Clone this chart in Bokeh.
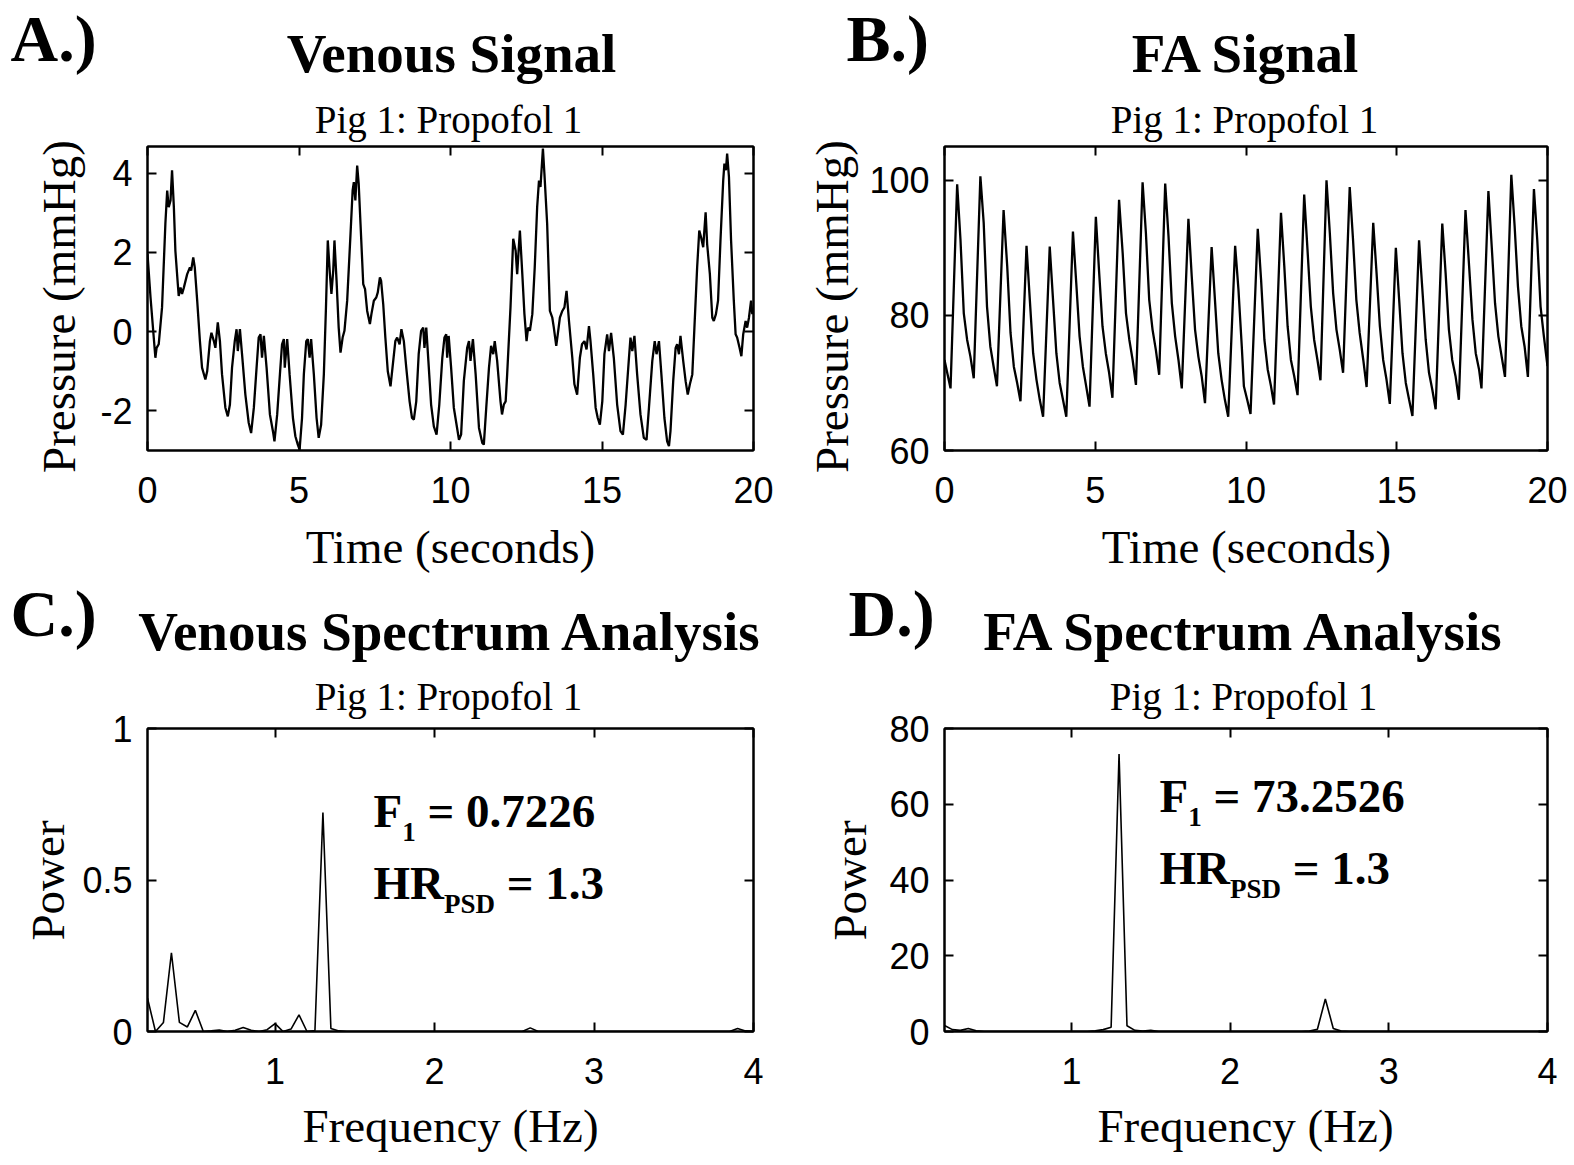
import math

from bokeh.plotting import figure
from bokeh.layouts import row, column
from bokeh.models import Range1d, LinearAxis, FixedTicker, Label
from bokeh.embed import file_html
from bokeh.resources import INLINE

# ---------------------------------------------------------------- data
# Venous pressure trace, 20 s window (seconds, mmHg)
venous_t = [
    0.00, 0.10, 0.26, 0.30, 0.37, 0.48, 0.59, 0.65, 0.70, 0.76, 0.81, 0.87, 0.92, 1.00,
    1.03, 1.09, 1.14, 1.20, 1.31, 1.40, 1.44, 1.51, 1.56, 1.64, 1.73, 1.80, 1.91, 1.97,
    2.06, 2.11, 2.19, 2.24, 2.32, 2.39, 2.46, 2.57, 2.65, 2.72, 2.79, 2.88, 2.94, 2.98,
    3.05, 3.12, 3.23, 3.34, 3.42, 3.51, 3.60, 3.67, 3.73, 3.78, 3.84, 3.93, 4.04, 4.15,
    4.19, 4.28, 4.37, 4.44, 4.50, 4.53, 4.61, 4.69, 4.80, 4.88, 4.96, 5.02, 5.10, 5.16,
    5.24, 5.29, 5.35, 5.40, 5.49, 5.58, 5.65, 5.73, 5.82, 5.89, 5.95, 6.02, 6.07, 6.13,
    6.17, 6.24, 6.31, 6.37, 6.44, 6.50, 6.59, 6.70, 6.77, 6.81, 6.86, 6.92, 6.97, 7.03,
    7.12, 7.18, 7.25, 7.34, 7.39, 7.47, 7.55, 7.60, 7.67, 7.71, 7.78, 7.85, 7.93, 8.02,
    8.11, 8.18, 8.24, 8.32, 8.38, 8.46, 8.54, 8.65, 8.73, 8.79, 8.87, 8.95, 9.03, 9.10,
    9.14, 9.20, 9.27, 9.36, 9.45, 9.54, 9.63, 9.73, 9.80, 9.86, 9.89, 9.94, 10.02, 10.11,
    10.28, 10.35, 10.44, 10.55, 10.61, 10.66, 10.74, 10.83, 10.94, 11.05, 11.10, 11.18,
    11.27, 11.34, 11.41, 11.46, 11.54, 11.65, 11.70, 11.76, 11.82, 11.87, 11.98, 12.07,
    12.15, 12.20, 12.29, 12.37, 12.44, 12.51, 12.56, 12.62, 12.70, 12.78, 12.86, 12.92,
    12.97, 13.05, 13.10, 13.19, 13.28, 13.36, 13.41, 13.49, 13.54, 13.61, 13.69, 13.76,
    13.83, 13.91, 14.02, 14.09, 14.18, 14.27, 14.34, 14.42, 14.49, 14.57, 14.62, 14.71,
    14.79, 14.86, 14.93, 15.01, 15.08, 15.17, 15.23, 15.30, 15.39, 15.50, 15.61, 15.69,
    15.78, 15.89, 15.94, 16.00, 16.07, 16.16, 16.27, 16.38, 16.47, 16.55, 16.66, 16.74,
    16.80, 16.88, 16.96, 17.06, 17.15, 17.21, 17.26, 17.35, 17.43, 17.48, 17.54, 17.59,
    17.68, 17.76, 17.83, 17.90, 17.98, 18.05, 18.14, 18.21, 18.27, 18.34, 18.42, 18.47,
    18.56, 18.64, 18.69, 18.76, 18.83, 18.91, 19.00, 19.04, 19.09, 19.13, 19.19, 19.26,
    19.35, 19.41, 19.46, 19.54, 19.60, 19.66, 19.74, 19.79, 19.85, 19.92, 19.96, 20.00,
]
venous_p = [
    1.96, 0.86, -0.66, -0.41, -0.32, 0.61, 2.72, 3.56, 3.14, 3.31, 4.07, 3.14, 2.04, 1.20,
    0.90, 1.11, 0.95, 1.11, 1.45, 1.62, 1.54, 1.87, 1.62, 0.78, -0.24, -0.91, -1.21, -1.00,
    -0.24, -0.03, -0.24, -0.41, 0.23, -0.24, -1.08, -1.92, -2.14, -1.84, -0.91, -0.24, 0.06, -0.49,
    0.06, -0.57, -1.59, -2.30, -2.56, -1.92, -0.91, -0.15, -0.07, -0.66, -0.11, -0.91, -2.09, -2.56,
    -2.77, -2.09, -1.08, -0.32, -0.19, -0.91, -0.19, -1.08, -2.18, -2.64, -2.85, -2.98, -2.18, -1.08,
    -0.24, -0.19, -0.66, -0.19, -1.08, -2.18, -2.68, -2.35, -1.08, 0.61, 2.30, 1.45, 0.95, 1.54,
    2.30, 1.28, 0.10, -0.53, -0.15, 0.02, 0.78, 2.46, 3.56, 3.77, 3.31, 4.19, 3.73, 2.72,
    1.20, 1.07, 0.52, 0.19, 0.44, 0.78, 0.86, 0.99, 1.37, 1.28, 0.69, -0.15, -1.00, -1.38,
    -0.74, -0.24, -0.15, -0.32, 0.06, -0.24, -0.91, -1.76, -2.18, -2.22, -1.76, -0.57, 0.02, 0.10,
    -0.41, 0.10, -0.74, -1.84, -2.39, -2.60, -1.84, -0.66, -0.15, -0.07, -0.66, -0.11, -0.91, -1.92,
    -2.73, -2.60, -1.25, -0.41, -0.24, -0.74, -0.19, -1.08, -2.43, -2.81, -2.85, -1.92,
    -0.91, -0.36, -0.57, -0.24, -0.74, -1.76, -2.09, -1.84, -1.76, -1.08, 0.61, 2.34,
    2.04, 1.45, 2.55, 1.45, 0.44, -0.24, 0.10, 0.02, 0.44, 1.62, 3.14, 3.81,
    3.65, 4.62, 3.98, 2.72, 0.52, 0.35, 0.10, -0.36, -0.07, 0.35, 0.52, 0.61,
    1.03, 0.27, -0.66, -1.33, -1.59, -0.66, -0.32, -0.24, -0.45, 0.14, -0.24, -1.08,
    -1.92, -2.18, -2.35, -1.76, -0.57, -0.07, -0.49, -0.03, -0.66, -1.84, -2.51, -2.60,
    -1.84, -0.66, -0.15, -0.49, -0.11, -1.08, -2.09, -2.68, -2.73, -1.92, -0.74, -0.24,
    -0.57, -0.24, -1.08, -2.18, -2.77, -2.89, -2.51, -1.25, -0.41, -0.32, -0.57, -0.11,
    -0.74, -1.25, -1.59, -1.33, -1.08, 0.10, 1.62, 2.55, 2.38, 2.13, 3.01, 2.21,
    1.45, 0.35, 0.27, 0.44, 0.78, 2.30, 3.81, 4.24, 4.07, 4.49, 3.90, 2.30,
    0.78, -0.07, -0.15, -0.41, -0.62, -0.07, 0.27, 0.10, 0.35, 0.78, 0.44, 0.61,
]

# Femoral arterial pressure trace, 20 s window (seconds, mmHg)
fa_t = [
    0.00, 0.20, 0.42, 0.53, 0.64, 0.75, 0.86, 0.97, 1.19, 1.30, 1.41, 1.52, 1.63, 1.74,
    1.96, 2.08, 2.19, 2.30, 2.41, 2.52, 2.72, 2.83, 2.94, 3.05, 3.16, 3.27, 3.49, 3.60,
    3.71, 3.82, 3.93, 4.04, 4.26, 4.37, 4.48, 4.59, 4.70, 4.81, 5.02, 5.13, 5.24, 5.35,
    5.46, 5.57, 5.79, 5.91, 6.02, 6.13, 6.24, 6.35, 6.57, 6.68, 6.79, 6.90, 7.01, 7.12,
    7.32, 7.43, 7.54, 7.65, 7.76, 7.87, 8.09, 8.20, 8.31, 8.42, 8.53, 8.64, 8.86, 8.97,
    9.08, 9.19, 9.30, 9.41, 9.64, 9.75, 9.86, 9.93, 10.04, 10.15, 10.39, 10.50, 10.61, 10.72,
    10.83, 10.93, 11.16, 11.27, 11.38, 11.49, 11.60, 11.71, 11.93, 12.04, 12.15, 12.26, 12.37, 12.47,
    12.67, 12.78, 12.89, 13.00, 13.11, 13.22, 13.44, 13.55, 13.66, 13.77, 13.89, 14.00, 14.22, 14.33,
    14.44, 14.55, 14.66, 14.77, 14.97, 15.08, 15.19, 15.30, 15.41, 15.52, 15.74, 15.85, 15.96, 16.07,
    16.18, 16.29, 16.51, 16.62, 16.73, 16.84, 16.95, 17.06, 17.28, 17.40, 17.51, 17.62, 17.73, 17.81,
    18.04, 18.15, 18.26, 18.37, 18.48, 18.59, 18.80, 18.91, 19.02, 19.13, 19.24, 19.35, 19.55, 19.66,
    19.77, 19.88, 20.00,
]
fa_p = [
    73.4, 69.2, 99.4, 91.2, 80.3, 76.4, 73.9, 70.7, 100.6, 93.7, 81.3, 75.4, 72.4, 69.5,
    95.6, 87.3, 77.4, 72.4, 70.0, 67.3, 90.3, 82.3, 74.4, 70.5, 67.5, 65.0, 90.2, 82.3,
    74.4, 70.0, 67.5, 65.0, 92.4, 84.8, 76.9, 72.4, 69.5, 66.5, 94.6, 86.3, 78.4, 74.4,
    71.5, 67.8, 97.1, 89.2, 80.3, 76.4, 73.4, 69.7, 99.7, 92.2, 82.3, 77.9, 74.9, 71.2,
    99.5, 91.7, 81.8, 76.9, 73.4, 69.2, 94.3, 85.8, 77.9, 73.9, 71.0, 67.0, 90.1, 82.3,
    74.4, 70.5, 67.5, 65.0, 90.3, 83.8, 75.4, 69.5, 67.5, 65.4, 92.8, 85.3, 76.4, 72.0,
    69.5, 66.8, 95.2, 87.3, 78.4, 73.4, 71.0, 68.2, 97.9, 89.7, 81.3, 76.4, 73.4, 70.4,
    100.0, 92.2, 83.3, 77.9, 74.9, 71.5, 99.0, 91.2, 82.3, 77.4, 73.4, 69.4, 93.7, 86.3,
    78.4, 73.4, 70.5, 66.9, 90.0, 82.3, 74.4, 70.0, 67.5, 65.1, 91.1, 83.8, 76.4, 71.5,
    69.0, 66.1, 93.6, 86.3, 77.9, 73.4, 71.0, 67.5, 95.6, 87.3, 79.4, 74.4, 72.0, 69.2,
    98.4, 90.2, 81.8, 76.9, 73.9, 70.9, 100.8, 93.2, 84.3, 78.4, 75.4, 70.9, 98.7, 91.2,
    81.3, 76.9, 72.5,
]

# Power spectra (Hz, power); flat stretches are given by their end points
venous_freq = [
    0.20, 0.25, 0.30, 0.35, 0.40, 0.45, 0.50, 0.55, 0.60, 0.65, 0.70, 0.75, 0.80, 0.85,
    0.90, 0.95, 1.00, 1.05, 1.10, 1.15, 1.20, 1.25, 1.30, 1.35, 1.40, 1.45, 2.55, 2.60,
    2.65, 3.85, 3.90, 3.95, 4.00,
]
venous_power = [
    0.11, 0.0, 0.03, 0.26, 0.03, 0.015, 0.07, 0.0, 0.002, 0.005, 0.0, 0.004, 0.013, 0.004,
    0.0, 0.006, 0.026, 0.0, 0.008, 0.055, 0.0, 0.003, 0.7226, 0.01, 0.002, 0.0, 0.0, 0.012,
    0.0, 0.0, 0.01, 0.002, 0.0,
]
fa_freq = [
    0.20, 0.25, 0.30, 0.35, 0.40, 0.45, 1.10, 1.15, 1.20, 1.25, 1.30, 1.35, 1.40, 1.45,
    1.50, 1.55, 2.45, 2.50, 2.55, 2.60, 2.65, 2.70, 2.75, 4.00,
]
fa_power = [
    1.6, 0.5, 0.3, 0.8, 0.2, 0.0, 0.0, 0.2, 0.5, 1.1, 73.2526, 1.5, 0.3, 0.1,
    0.3, 0.0, 0.0, 0.1, 0.6, 8.6, 0.8, 0.1, 0.0, 0.0,
]

time_ticks = [0, 5, 10, 15, 20]
time_tick_labels = ["0", "5", "10", "15", "20"]
venous_ticks = [-2, 0, 2, 4]
venous_tick_labels = ["-2", "0", "2", "4"]
fa_ticks = [60, 80, 100]
fa_tick_labels = ["60", "80", "100"]
freq_ticks = [1, 2, 3, 4]
freq_tick_labels = ["1", "2", "3", "4"]
venous_power_ticks = [0, 0.5, 1]
venous_power_tick_labels = ["0", "0.5", "1"]
fa_power_ticks = [0, 20, 40, 60, 80]
fa_power_tick_labels = ["0", "20", "40", "60", "80"]

# ---------------------------------------------------------------- style
SERIF = "Liberation Serif"
SANS = "Liberation Sans"
TICK_PX = 36
AXIS_LABEL_PX = 47
TITLE_PX = 55
SUBTITLE_PX = 39
LETTER_PX = 66
NOTE_PX = 47
NOTE_SUB_PX = 27
BASELINE_SHIFT = 0.36  # em; moves the drawn baseline onto the requested one

# advance widths (em) of Liberation Serif Bold, used to chain subscript pieces
BOLD_SERIF_EM = {
    "F": 0.611, "H": 0.778, "R": 0.722, "P": 0.611, "S": 0.556, "D": 0.722,
    "1": 0.5, " ": 0.25,
}


def em_width(s):
    return sum(BOLD_SERIF_EM[c] for c in s)


def text(p, x, y, s, size, bold=False, align="left", vertical=False, place="center"):
    """Serif text with its alphabetic baseline at canvas (x, y)."""
    shift = BASELINE_SHIFT * size
    if vertical:
        x, angle = x - shift, math.pi / 2
    else:
        y, angle = y - shift, 0.0
    p.add_layout(Label(x=x, y=y, x_units="canvas", y_units="canvas", text=s,
                       text_font=SERIF, text_font_size=f"{size}px",
                       text_font_style="bold" if bold else "normal",
                       text_align=align, text_baseline="alphabetic",
                       angle=angle, text_color="black"), place)


def note(p, x, y, main, sub, rest):
    text(p, x, y, main, NOTE_PX, bold=True)
    xs = x + em_width(main) * NOTE_PX
    text(p, xs, y + 14, sub, NOTE_SUB_PX, bold=True)
    xr = xs + em_width(sub) * NOTE_SUB_PX + em_width(" ") * NOTE_PX
    text(p, xr, y, rest, NOTE_PX, bold=True)


def make_panel(w, h, left, right, top, bottom, xr, yr, xt, xl, yt, yl):
    p = figure(width=w, height=h, x_range=Range1d(*xr), y_range=Range1d(*yr),
               output_backend="svg", toolbar_location=None,
               x_axis_location=None, y_axis_location=None,
               min_border_left=left, min_border_right=right,
               min_border_top=top, min_border_bottom=bottom)
    p.grid.visible = False
    p.outline_line_color = "black"
    p.outline_line_width = 2
    p.background_fill_color = "white"
    p.border_fill_color = "white"
    for loc, ticks, labels in [("below", xt, xl), ("above", xt, None),
                               ("left", yt, yl), ("right", yt, None)]:
        ax = LinearAxis(ticker=FixedTicker(ticks=ticks))
        ax.axis_line_color = "black"
        ax.axis_line_width = 2
        ax.major_tick_line_color = "black"
        ax.major_tick_line_width = 2
        ax.major_tick_in = 9
        ax.major_tick_out = 0
        ax.minor_tick_line_color = None
        if labels is not None:
            ax.major_label_overrides = dict(zip(ticks, labels))
            ax.major_label_text_font = SANS
            ax.major_label_text_font_size = f"{TICK_PX}px"
            ax.major_label_text_color = "black"
            ax.major_label_standoff = 15 if loc == "left" else 26
        else:
            ax.major_label_overrides = {t: "" for t in ticks}
            ax.major_label_text_font_size = "0px"
            ax.major_label_text_color = None
            ax.major_label_standoff = 0
        p.add_layout(ax, loc)
    return p


def make_header(w, h):
    p = figure(width=w, height=h, x_range=Range1d(0, 1), y_range=Range1d(0, 1),
               output_backend="svg", toolbar_location=None,
               x_axis_location=None, y_axis_location=None,
               min_border_left=0, min_border_right=0, min_border_top=0, min_border_bottom=0)
    p.grid.visible = False
    p.outline_line_color = None
    p.background_fill_color = "white"
    p.border_fill_color = "white"
    return p


# ---------------------------------------------------------------- layout
# page rows: heading strip 0-88, panels A/B 88-576, heading strip 576-668, panels C/D 668-1165
W = 787
HEAD_TOP, ROW_TOP = 88, 488
HEAD_BOT, ROW_BOT = 92, 497

head_top = make_header(2 * W, HEAD_TOP)
text(head_top, 10, 62, "A.)", LETTER_PX, bold=True)
text(head_top, 451, 73, "Venous Signal", TITLE_PX, bold=True, align="center")
text(head_top, 846, 62, "B.)", LETTER_PX, bold=True)
text(head_top, 1246, 73, "FA Signal", TITLE_PX, bold=True, align="center")

head_bot = make_header(2 * W, HEAD_BOT)
text(head_bot, 10, 61, "C.)", LETTER_PX, bold=True)
text(head_bot, 450, 75, "Venous Spectrum Analysis", TITLE_PX, bold=True, align="center")
text(head_bot, 848, 61, "D.)", LETTER_PX, bold=True)
text(head_bot, 1245, 75, "FA Spectrum Analysis", TITLE_PX, bold=True, align="center")

pa = make_panel(W, ROW_TOP, 147, 34, 58, 126, (0, 20), (-3.0, 4.67),
                time_ticks, time_tick_labels, venous_ticks, venous_tick_labels)
pa.line(venous_t, venous_p, line_color="black", line_width=2.3)
text(pa, 448, 45, "Pig 1: Propofol 1", SUBTITLE_PX, align="center", place="above")
text(pa, 450, 475, "Time (seconds)", AXIS_LABEL_PX, align="center", place="below")
text(pa, 75, 218, "Pressure (mmHg)", AXIS_LABEL_PX, align="center", vertical=True, place="left")

pb = make_panel(W, ROW_TOP, 157, 27, 58, 126, (0, 20), (60, 105),
                time_ticks, time_tick_labels, fa_ticks, fa_tick_labels)
pb.line(fa_t, fa_p, line_color="black", line_width=2.3)
text(pb, 457, 45, "Pig 1: Propofol 1", SUBTITLE_PX, align="center", place="above")
text(pb, 459, 475, "Time (seconds)", AXIS_LABEL_PX, align="center", place="below")
text(pb, 61, 218, "Pressure (mmHg)", AXIS_LABEL_PX, align="center", vertical=True, place="left")

pc = make_panel(W, ROW_BOT, 147, 34, 60, 134, (0.2, 4.0), (0, 1),
                freq_ticks, freq_tick_labels, venous_power_ticks, venous_power_tick_labels)
pc.line(venous_freq, venous_power, line_color="black", line_width=1.6)
text(pc, 448, 42, "Pig 1: Propofol 1", SUBTITLE_PX, align="center", place="above")
text(pc, 450, 474, "Frequency (Hz)", AXIS_LABEL_PX, align="center", place="below")
text(pc, 64, 212, "Power", AXIS_LABEL_PX, align="center", vertical=True, place="left")
note(pc, 373, 159, "F", "1", "= 0.7226")
note(pc, 373, 231, "HR", "PSD", "= 1.3")

pd = make_panel(W, ROW_BOT, 157, 27, 60, 134, (0.2, 4.0), (0, 80),
                freq_ticks, freq_tick_labels, fa_power_ticks, fa_power_tick_labels)
pd.line(fa_freq, fa_power, line_color="black", line_width=1.6)
text(pd, 456, 42, "Pig 1: Propofol 1", SUBTITLE_PX, align="center", place="above")
text(pd, 458, 474, "Frequency (Hz)", AXIS_LABEL_PX, align="center", place="below")
text(pd, 79, 212, "Power", AXIS_LABEL_PX, align="center", vertical=True, place="left")
note(pd, 372, 144, "F", "1", "= 73.2526")
note(pd, 372, 216, "HR", "PSD", "= 1.3")

layout = column(head_top, row(pa, pb), head_bot, row(pc, pd))
open("out.html", "w").write(file_html(layout, INLINE))
